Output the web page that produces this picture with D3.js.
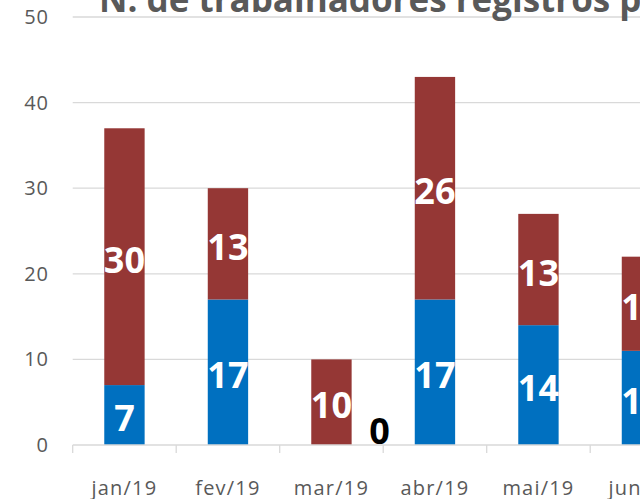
<!DOCTYPE html>
<html><head><meta charset="utf-8">
<script src="https://cdn.jsdelivr.net/npm/d3@7/dist/d3.min.js"></script>
<style>
html,body{margin:0;padding:0;background:#fff;overflow:hidden;}
svg{display:block;}
</style></head>
<body>
<script>
const title = "N. de trabalhadores registros por mês";
const categories = ["jan/19","fev/19","mar/19","abr/19","mai/19","jun/19"];
const seriesBlue = [7,17,0,17,14,11];
const seriesRed = [30,13,10,26,13,11];
const yTicks = [0,10,20,30,40,50];

const W = 640, H = 499;
const svg = d3.select("body").append("svg").attr("width",W).attr("height",H);

const x = d3.scaleBand().domain(categories).range([72.7, 72.7 + 103.5*categories.length]).paddingInner(0.61).paddingOuter(0.305);
const x0 = d3.scaleBand().domain(categories).range(x.range());
const y = d3.scaleLinear().domain([0,50]).range([445,17]);

// gridlines
svg.append("g").selectAll("line").data(yTicks.filter(d=>d>0)).join("line")
  .attr("x1",72.7).attr("x2",x.range()[1]).attr("y1",d=>y(d)).attr("y2",d=>y(d))
  .attr("stroke","#d9d9d9").attr("stroke-width",1.3);

// y labels
svg.append("g").selectAll("text").data(yTicks).join("text")
  .attr("x",49).attr("y",d=>y(d)+7).attr("text-anchor","end")
  .attr("font-family","Open Sans").attr("font-size",20).attr("letter-spacing",1)
  .attr("fill","#595959").text(d=>d);

// title
svg.append("text").attr("x",99).attr("y",12)
  .attr("font-family","Open Sans").attr("font-weight","bold").attr("font-size",35)
  .attr("fill","#595959").text(title);

// bars
const data = categories.map((c,i)=>({c, b:seriesBlue[i], r:seriesRed[i]}));
svg.append("g").selectAll("rect").data(data).join("rect")
  .attr("x",d=>x(d.c)).attr("width",x.bandwidth())
  .attr("y",d=>y(d.b)).attr("height",d=>y(0)-y(d.b)).attr("fill","#0070C0");
svg.append("g").selectAll("rect").data(data).join("rect")
  .attr("x",d=>x(d.c)).attr("width",x.bandwidth())
  .attr("y",d=>y(d.b+d.r)).attr("height",d=>y(d.b)-y(d.b+d.r)).attr("fill","#953735");

// x axis
const xAxis = d3.axisBottom(x0).tickSize(0).tickFormat(()=>"");
svg.append("line").attr("x1",72.7).attr("x2",x.range()[1]).attr("y1",y(0)).attr("y2",y(0))
  .attr("stroke","#d9d9d9").attr("stroke-width",1.3);
const boundaries = categories.map(c=>x0(c));
svg.append("g").selectAll("line").data(boundaries).join("line")
  .attr("x1",d=>d).attr("x2",d=>d).attr("y1",y(0)).attr("y2",y(0)+8)
  .attr("stroke","#d9d9d9").attr("stroke-width",1.3);
svg.append("g").selectAll("text").data(categories).join("text")
  .attr("x",d=>x0(d)+x0.bandwidth()/2).attr("y",495).attr("text-anchor","middle")
  .attr("font-family","Open Sans").attr("font-size",20).attr("letter-spacing",1.2)
  .attr("fill","#595959").text(d=>d);

// data labels
const lab = svg.append("g").attr("font-family","Open Sans").attr("font-weight","bold")
  .attr("font-size",36).attr("text-anchor","middle");
data.forEach(d=>{
  const cx = x(d.c)+x.bandwidth()/2;
  if(d.b>0){
    lab.append("text").attr("x",cx).attr("y",(y(0)+y(d.b))/2+16).attr("fill","#fff").text(d.b);
  } else {
    lab.append("text").attr("x",x0(d.c)+x0.bandwidth()*0.965).attr("y",y(0)-1).attr("fill","#000").text(d.b);
  }
  lab.append("text").attr("x",cx).attr("y",(y(d.b)+y(d.b+d.r))/2+16).attr("fill","#fff").text(d.r);
});
</script>
</body></html>
